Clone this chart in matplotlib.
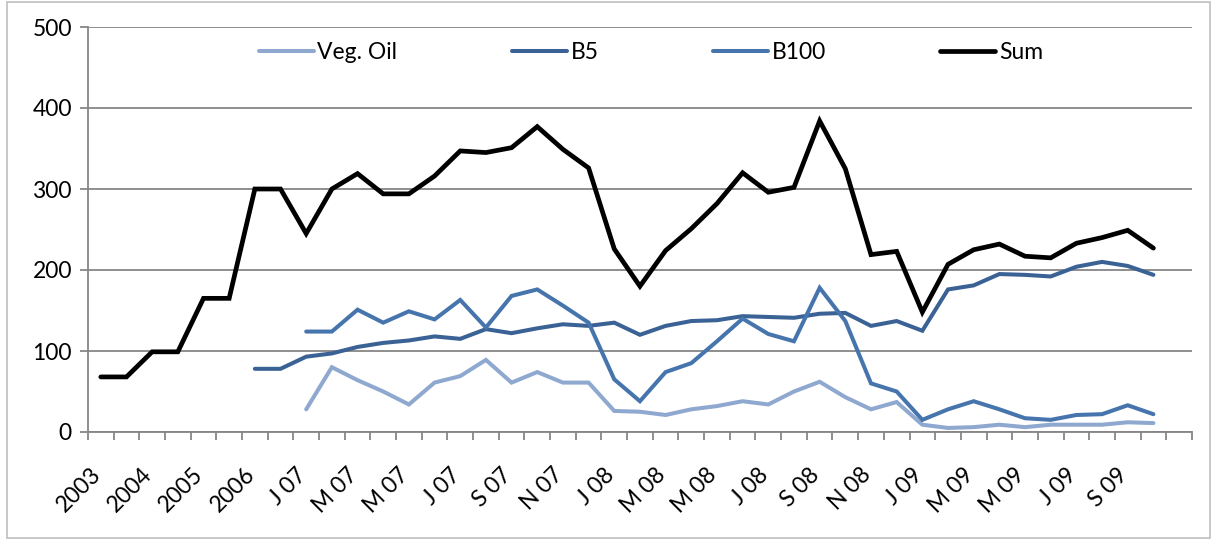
import matplotlib
matplotlib.use("Agg")
import matplotlib.pyplot as plt
import matplotlib.transforms as mtransforms
from matplotlib.patches import Rectangle
import numpy as np

plt.rcParams['font.family'] = ['Lato', 'DejaVu Sans']

categories = ["2003", "", "2004", "", "2005", "", "2006", "",
              "J 07", "F 07", "M 07", "A 07", "M 07", "J 07", "J 07", "A 07",
              "S 07", "O 07", "N 07", "D 07",
              "J 08", "F 08", "M 08", "A 08", "M 08", "J 08", "J 08", "A 08",
              "S 08", "O 08", "N 08", "D 08",
              "J 09", "F 09", "M 09", "A 09", "M 09", "J 09", "J 09", "A 09",
              "S 09", "O 09", ""]

nan = np.nan
veg_oil = [nan, nan, nan, nan, nan, nan, nan, nan,
           28, 80, 64, 50, 34, 61, 69, 89, 61, 74, 61, 61,
           26, 25, 21, 28, 32, 38, 34, 50, 62, 43, 28, 37,
           9, 5, 6, 9, 6, 9, 9, 9, 12, 11, nan]
b5 = [nan, nan, nan, nan, nan, nan, 78, 78,
      93, 97, 105, 110, 113, 118, 115, 127, 122, 128, 133, 131,
      135, 120, 131, 137, 138, 143, 142, 141, 146, 147, 131, 137,
      125, 176, 181, 195, 194, 192, 204, 210, 205, 194, nan]
b100 = [nan, nan, nan, nan, nan, nan, nan, nan,
        124, 124, 151, 135, 149, 139, 163, 129, 168, 176, 156, 135,
        65, 38, 74, 85, 112, 140, 121, 112, 178, 137, 60, 50,
        15, 28, 38, 28, 17, 15, 21, 22, 33, 22, nan]
total = [68, 68, 99, 99, 165, 165, 300, 300,
         245, 300, 319, 294, 294, 316, 347, 345, 351, 377, 349, 326,
         226, 180, 224, 251, 282, 320, 296, 302, 384, 325, 219, 223,
         148, 207, 225, 232, 217, 215, 233, 240, 249, 227, nan]

series_names = ["Veg. Oil", "B5", "B100", "Sum"]
colors = ["#8EA8D0", "#3A6295", "#4674AD", "#000000"]

fig = plt.figure(figsize=(12.15, 5.4), dpi=100)
ax = fig.add_axes([0.0724, 0.2, 0.9086, 0.75])

x = np.arange(len(categories))
for vals, name, c in zip([veg_oil, b5, b100, total], series_names, colors):
    lw = 3.4 if name == "Sum" else 2.9
    ax.plot(x, vals, color=c, lw=lw, label=name, solid_capstyle='round',
            solid_joinstyle='miter', zorder=3)

ax.set_xlim(-0.5, len(categories) - 0.5)
ax.set_ylim(0, 500)
ax.set_yticks([0, 100, 200, 300, 400, 500])
ax.yaxis.grid(True, color="#868686", lw=1.3)
ax.set_axisbelow(True)

# x: labels every other category at centres, tick marks at boundaries
lab_pos = x[::2]
ax.set_xticks(lab_pos)
ax.set_xticklabels([categories[i] for i in lab_pos], rotation=45,
                   ha='right', va='top')
ax.set_xticks(np.arange(-0.5, len(categories) + 0.5, 1.0), minor=True)
ax.tick_params(axis='x', which='major', length=0, pad=23, labelsize=16.5)
ax.tick_params(axis='x', which='minor', length=5.5, width=1.3, color="#868686",
               direction='out')
ax.tick_params(axis='y', length=5.5, width=1.3, color="#868686", labelsize=16.5,
               pad=6)
offset = mtransforms.ScaledTranslation(4 / 100, 0, fig.dpi_scale_trans)
for lbl in ax.get_xticklabels():
    lbl.set_transform(lbl.get_transform() + offset)

for s in ['top', 'right']:
    ax.spines[s].set_visible(False)
for s in ['left', 'bottom']:
    ax.spines[s].set_color("#868686")
    ax.spines[s].set_linewidth(1.3)

leg = ax.legend(loc='center', bbox_to_anchor=(0.51, 0.936), ncol=4,
                frameon=False, fontsize=16.5, handlelength=2.4,
                handletextpad=0.15, columnspacing=5.0)

fig.patches.append(Rectangle((0.006, 0.003), 0.99, 0.994,
                             transform=fig.transFigure, fill=False,
                             edgecolor="#BFBFBF", lw=1.2))

fig.savefig("out.png", dpi=100)
